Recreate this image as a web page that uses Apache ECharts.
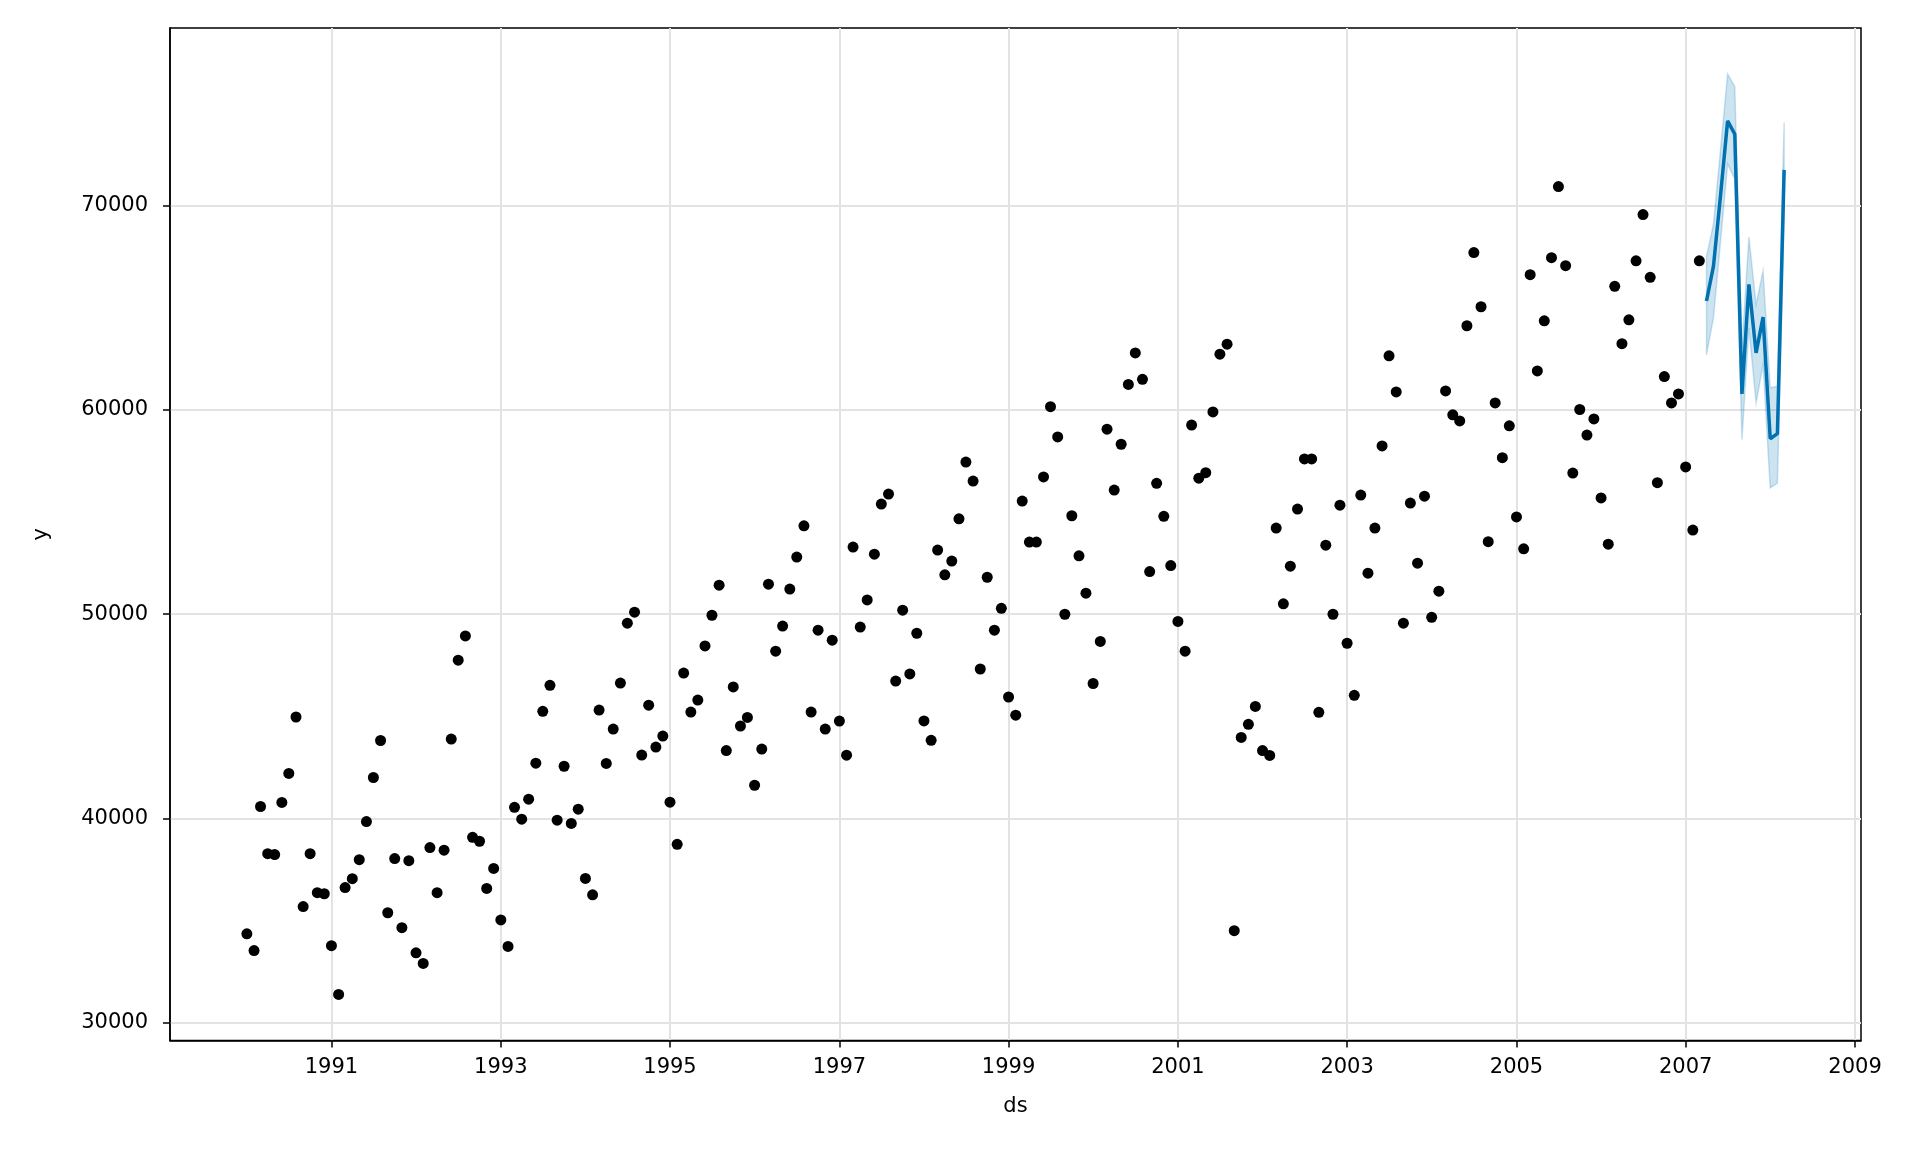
<!DOCTYPE html>
<html>
<head>
<meta charset="utf-8">
<script src="https://cdn.jsdelivr.net/npm/echarts@6/dist/echarts.min.js"></script>
<style>
html,body{margin:0;padding:0;background:#fff;}
#chart{width:1920px;height:1152px;}
</style>
</head>
<body>
<div id="chart"></div>
<script>
// ---- data ----
const historyStart = [1990, 1]; // first month of the observed series (year, month)
const yObserved = [
  34360, 33540, 40590, 38280, 38240, 40790, 42210, 44970, 35690, 38280, 36370, 36320, // 1990
  33780, 31390, 36620, 37060, 37990, 39850, 42010, 43820, 35390, 38040, 34660, 37940, // 1991
  33430, 32910, 38580, 36370, 38450, 43890, 47750, 48940, 39080, 38890, 36580, 37560, // 1992
  35040, 33740, 40550, 39970, 40950, 42710, 45250, 46520, 39920, 42560, 39760, 40460, // 1993
  37070, 36270, 45310, 42700, 44380, 46630, 49560, 50100, 43110, 45550, 43500, 44040, // 1994
  40800, 38740, 47120, 45210, 45800, 48450, 49950, 51420, 43330, 46440, 44530, 44950, // 1995
  41630, 43400, 51470, 48190, 49420, 51230, 52800, 54330, 45210, 49220, 44380, 48730, // 1996
  44770, 43100, 53290, 49370, 50700, 52940, 55390, 55880, 46730, 50200, 47080, 49070, // 1997
  44780, 43830, 53140, 51930, 52600, 54670, 57450, 56520, 47320, 51810, 49220, 50290, // 1998
  45950, 45060, 55540, 53530, 53530, 56720, 60160, 58680, 50000, 54820, 52860, 51030, // 1999
  46610, 48670, 59060, 56080, 58320, 61250, 62790, 61500, 52090, 56410, 54790, 52380, // 2000
  49650, 48190, 59260, 56660, 56930, 59900, 62730, 63220, 34510, 43970, 44610, 45490, // 2001
  43330, 43090, 54220, 50510, 52350, 55150, 57600, 57600, 45200, 53380, 50000, 55340, // 2002
  48580, 46030, 55830, 52010, 54220, 58240, 62650, 60880, 49560, 55440, 52500, 55780, // 2003
  49850, 51130, 60930, 59760, 59460, 64120, 67700, 65050, 53550, 60340, 57660, 59220, // 2004
  54760, 53200, 66620, 61910, 64360, 67450, 70930, 67060, 56910, 60020, 58770, 59560, // 2005
  55690, 53430, 66050, 63240, 64410, 67300, 69560, 66490, 56440, 61630, 60340, 60780, // 2006
  57210, 54120, 67300                                                                  // 2007
];
const forecastStart = [2007, 4];
const yhat      = [65330, 67040, 70550, 74150, 73500, 60780, 66140, 62790, 64540, 58590, 58840, 71750];
const yhatLower = [62700, 64510, 68300, 72030, 71300, 58550, 64020, 60340, 62220, 56180, 56420, 69410];
const yhatUpper = [67500, 69090, 72800, 76440, 75820, 63040, 68460, 65160, 66800, 61080, 61160, 74070];
const xTickYears = [1991, 1993, 1995, 1997, 1999, 2001, 2003, 2005, 2007, 2009];
const yTicks = [30000, 40000, 50000, 60000, 70000];

// ---- helpers ----
function monthSeq(start, n) {
  const out = [];
  for (let i = 0; i < n; i++) {
    const m = start[1] - 1 + i;
    out.push(Date.UTC(start[0] + Math.floor(m / 12), m % 12, 1));
  }
  return out;
}
const dsHist = monthSeq(historyStart, yObserved.length);
const dsFc = monthSeq(forecastStart, yhat.length);

const histPts = dsHist.map((t, i) => [t, yObserved[i]]);
const fcPts = dsFc.map((t, i) => [t, yhat[i]]);
const bandData = dsFc.map((t, i) => [t, yhatLower[i], yhatUpper[i]]);

// matplotlib-style 5% margins
const tMin = dsHist[0], tMax = dsFc[dsFc.length - 1];
const xPad = (tMax - tMin) * 0.05;
const allY = yObserved.concat(yhatLower, yhatUpper);
const yLo = Math.min(...allY), yHi = Math.max(...allY);
const yPad = (yHi - yLo) * 0.05;

const xTickTs = xTickYears.map(y => Date.UTC(y, 0, 1));
const FONT = 'DejaVu Sans';
const FS = 21;
const BAND = 'rgba(0,114,178,0.2)';

const chart = echarts.init(document.getElementById('chart'), null, {renderer: 'canvas'});
chart.setOption({
  animation: false,
  backgroundColor: '#ffffff',
  grid: {left: 170, right: 59, top: 28, bottom: 111.5, show: true, borderColor: '#000', borderWidth: 1.5, backgroundColor: 'transparent'},
  xAxis: {
    type: 'value',
    min: tMin - xPad,
    max: tMax + xPad,
    name: 'ds',
    nameLocation: 'middle',
    nameGap: 56,
    nameTextStyle: {color: '#000', fontSize: FS, fontFamily: FONT},
    axisLine: {show: true, onZero: false, lineStyle: {color: '#000', width: 1.5}},
    axisTick: {show: true, inside: false, length: 7, lineStyle: {color: '#000', width: 1.5}, customValues: xTickTs},
    axisLabel: {
      customValues: xTickTs,
      formatter: v => String(new Date(v).getUTCFullYear()),
      color: '#000', fontSize: FS, fontFamily: FONT, margin: 17
    },
    splitLine: {show: true, lineStyle: {color: '#e3e3e3', width: 2}}
  },
  yAxis: {
    type: 'value',
    min: yLo - yPad,
    max: yHi + yPad,
    name: 'y',
    nameLocation: 'middle',
    nameGap: 118,
    nameTextStyle: {color: '#000', fontSize: FS, fontFamily: FONT},
    axisLine: {show: true, onZero: false, lineStyle: {color: '#000', width: 1.5}},
    axisTick: {show: true, inside: false, length: 7, lineStyle: {color: '#000', width: 1.5}, customValues: yTicks},
    axisLabel: {customValues: yTicks, color: '#000', fontSize: FS, fontFamily: FONT, margin: 22, formatter: v => String(v)},
    splitLine: {show: true, lineStyle: {color: '#e3e3e3', width: 2}}
  },
  series: [
    {
      name: 'y', type: 'scatter', data: histPts, symbol: 'circle', symbolSize: 11,
      itemStyle: {color: '#000', opacity: 1}, z: 3
    },
    {
      name: 'yhat', type: 'line', data: fcPts, showSymbol: false, symbol: 'none',
      lineStyle: {color: '#0072B2', width: 3.5}, z: 4
    },
    {
      name: 'interval', type: 'custom', data: bandData, z: 5, silent: true,
      encode: {x: 0, y: [1, 2]},
      renderItem: function (params, api) {
        if (params.dataIndex !== 0) return null;
        const upper = bandData.map(d => api.coord([d[0], d[2]]));
        const lower = bandData.map(d => api.coord([d[0], d[1]])).reverse();
        return {
          type: 'polygon',
          shape: {points: upper.concat(lower)},
          style: {fill: BAND, stroke: BAND, lineWidth: 1.5}
        };
      }
    }
  ]
});
</script>
</body>
</html>
